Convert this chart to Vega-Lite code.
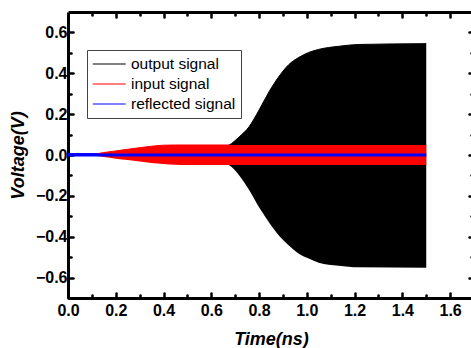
{
  "$schema": "https://vega.github.io/schema/vega-lite/v6.json",
  "autosize": "none",
  "padding": {"left": 68, "top": 12, "right": 0, "bottom": 50},
  "width": 406,
  "height": 286,
  "background": "white",
  "config": {
    "view": {"stroke": null},
    "font": "Liberation Sans",
    "axis": {"grid": false, "labelFlush": false, "labelOverlap": false, "domainColor": "black", "domainWidth": 3, "tickColor": "black", "tickWidth": 2.5, "tickCap": "round", "labelFont": "Liberation Sans", "labelFontWeight": "bold", "labelFontSize": 16, "labelColor": "black", "titleFont": "Liberation Sans", "titleFontWeight": "bold", "titleFontStyle": "italic", "titleFontSize": 18, "titleColor": "black", "zindex": 1}
  },
  "data": {"values": [
    {"series": "output signal", "t": 0.0, "hi": 0.0, "lo": 0.0},
    {"series": "output signal", "t": 0.1, "hi": 0.002, "lo": -0.002},
    {"series": "output signal", "t": 0.3, "hi": 0.01, "lo": -0.01},
    {"series": "output signal", "t": 0.5, "hi": 0.02, "lo": -0.02},
    {"series": "output signal", "t": 0.6, "hi": 0.03, "lo": -0.033},
    {"series": "output signal", "t": 0.65, "hi": 0.04, "lo": -0.042},
    {"series": "output signal", "t": 0.675, "hi": 0.049, "lo": -0.05},
    {"series": "output signal", "t": 0.717, "hi": 0.089, "lo": -0.1},
    {"series": "output signal", "t": 0.758, "hi": 0.138, "lo": -0.17},
    {"series": "output signal", "t": 0.8, "hi": 0.22, "lo": -0.256},
    {"series": "output signal", "t": 0.842, "hi": 0.31, "lo": -0.33},
    {"series": "output signal", "t": 0.883, "hi": 0.384, "lo": -0.394},
    {"series": "output signal", "t": 0.925, "hi": 0.443, "lo": -0.443},
    {"series": "output signal", "t": 0.967, "hi": 0.478, "lo": -0.483},
    {"series": "output signal", "t": 1.008, "hi": 0.502, "lo": -0.507},
    {"series": "output signal", "t": 1.05, "hi": 0.517, "lo": -0.527},
    {"series": "output signal", "t": 1.133, "hi": 0.532, "lo": -0.542},
    {"series": "output signal", "t": 1.217, "hi": 0.541, "lo": -0.55},
    {"series": "output signal", "t": 1.5, "hi": 0.545, "lo": -0.552},
    {"series": "input signal", "t": 0.09, "hi": 0.0, "lo": 0.0},
    {"series": "input signal", "t": 0.15, "hi": 0.012, "lo": -0.01},
    {"series": "input signal", "t": 0.2, "hi": 0.02, "lo": -0.018},
    {"series": "input signal", "t": 0.25, "hi": 0.028, "lo": -0.025},
    {"series": "input signal", "t": 0.3, "hi": 0.036, "lo": -0.032},
    {"series": "input signal", "t": 0.35, "hi": 0.043, "lo": -0.039},
    {"series": "input signal", "t": 0.4, "hi": 0.048, "lo": -0.044},
    {"series": "input signal", "t": 0.45, "hi": 0.049, "lo": -0.048},
    {"series": "input signal", "t": 0.5, "hi": 0.049, "lo": -0.049},
    {"series": "input signal", "t": 1.5, "hi": 0.049, "lo": -0.049},
    {"series": "reflected signal", "t": 0.0, "hi": 0.007, "lo": -0.007},
    {"series": "reflected signal", "t": 1.5, "hi": 0.007, "lo": -0.007}
  ]},
  "resolve": {"axis": {"x": "independent", "y": "independent"}},
  "layer": [
    {
      "mark": {"type": "line", "strokeWidth": 1, "interpolate": "monotone"},
      "encoding": {
        "x": {"field": "t", "type": "quantitative", "scale": {"domain": [0, 1.7], "nice": false, "zero": false},
          "axis": {"orient": "top", "title": null, "labels": false, "domain": true,
            "values": [0.2,0.4,0.6,0.8,1.0,1.2,1.4,1.6], "tickSize": -5}},
        "y": {"field": "hi", "type": "quantitative", "scale": {"domain": [-0.7, 0.7], "nice": false, "zero": false},
          "axis": {"orient": "right", "title": null, "labels": false, "domain": true,
            "values": [-0.6,-0.4,-0.2,0,0.2,0.4,0.6], "tickSize": -5}},
        "stroke": {"field": "series", "type": "nominal",
          "scale": {"domain": ["output signal", "input signal", "reflected signal"], "range": ["black", "red", "blue"]},
          "legend": {"title": null, "orient": "none", "legendX": 19, "legendY": 38, "symbolType": "M-1,0L3,0", "symbolSize": 272, "symbolStrokeWidth": 1.2, "labelFont": "Liberation Sans", "labelFontSize": 15.5, "labelFontWeight": "normal", "labelColor": "black", "labelOffset": 21, "padding": 5, "rowPadding": 2, "strokeColor": "#444", "fillColor": "white", "cornerRadius": 0}}
      }
    },
    {
      "transform": [{"filter": "datum.series == 'output signal'"}],
      "mark": {"type": "area", "interpolate": "monotone"},
      "encoding": {
        "x": {"field": "t", "type": "quantitative", "scale": {"domain": [0, 1.7], "nice": false, "zero": false},
          "axis": {"orient": "bottom", "title": "Time(ns)", "titlePadding": 12,
            "values": [0,0.2,0.4,0.6,0.8,1.0,1.2,1.4,1.6], "format": ".1f",
            "labelPadding": 9, "tickSize": -5}},
        "y": {"field": "hi", "type": "quantitative", "scale": {"domain": [-0.7, 0.7], "nice": false, "zero": false},
          "axis": {"orient": "left", "title": "Voltage(V)", "titlePadding": 8,
            "values": [-0.6,-0.4,-0.2,0,0.2,0.4,0.6], "format": ".1f",
            "labelPadding": 6, "tickSize": -5}},
        "y2": {"field": "lo"},
        "fill": {"field": "series", "type": "nominal", "scale": {"domain": ["output signal", "input signal", "reflected signal"], "range": ["black", "red", "blue"]}, "legend": null}
      }
    },
    {
      "transform": [{"filter": "datum.series == 'input signal'"}],
      "mark": {"type": "area", "interpolate": "monotone"},
      "encoding": {
        "x": {"field": "t", "type": "quantitative",
          "axis": {"orient": "bottom", "title": null, "labels": false, "domain": false,
            "values": [0.1,0.3,0.5,0.7,0.9,1.1,1.3,1.5], "tickSize": -3}},
        "y": {"field": "hi", "type": "quantitative",
          "axis": {"orient": "left", "title": null, "labels": false, "domain": false,
            "values": [-0.5,-0.3,-0.1,0.1,0.3,0.5], "tickSize": -3}},
        "y2": {"field": "lo"},
        "fill": {"field": "series", "type": "nominal", "legend": null}
      }
    },
    {
      "transform": [{"filter": "datum.series == 'reflected signal'"}],
      "mark": {"type": "area"},
      "encoding": {
        "x": {"field": "t", "type": "quantitative",
          "axis": {"orient": "top", "title": null, "labels": false, "domain": false,
            "values": [0.1,0.3,0.5,0.7,0.9,1.1,1.3,1.5], "tickSize": -3}},
        "y": {"field": "hi", "type": "quantitative",
          "axis": {"orient": "right", "title": null, "labels": false, "domain": false,
            "values": [-0.5,-0.3,-0.1,0.1,0.3,0.5], "tickSize": -3}},
        "y2": {"field": "lo"},
        "fill": {"field": "series", "type": "nominal", "legend": null}
      }
    }
  ]
}
